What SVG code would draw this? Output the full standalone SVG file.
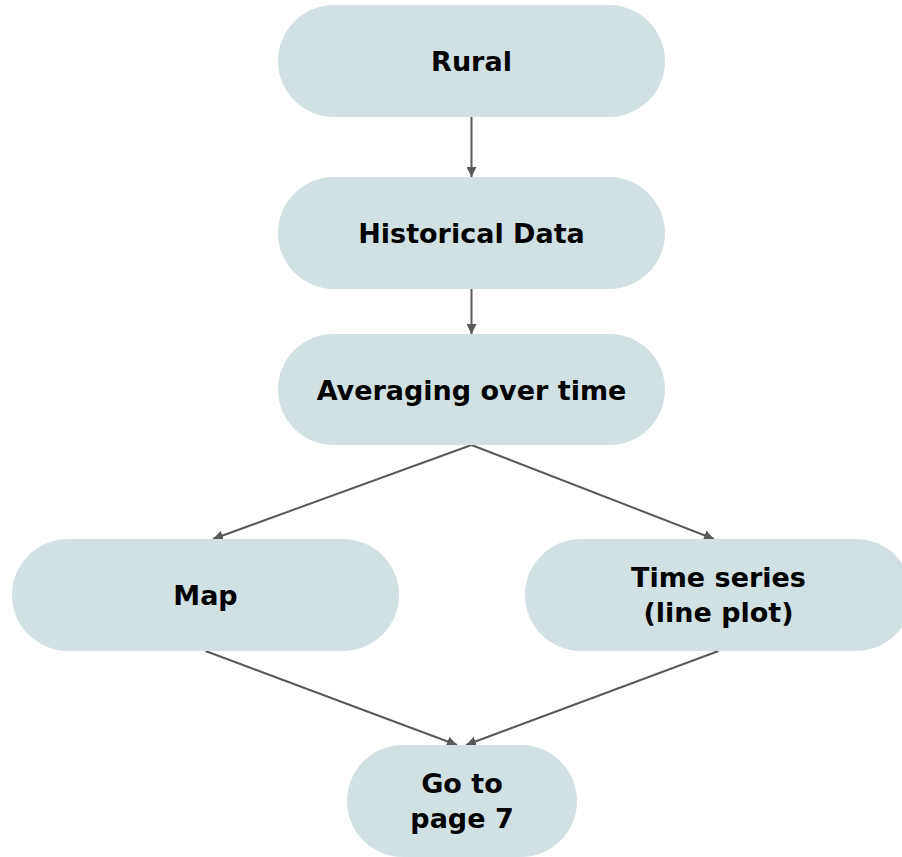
<svg xmlns="http://www.w3.org/2000/svg" width="902" height="857" viewBox="0 0 902 857">
  <defs>
    <marker id="arrow" viewBox="0 0 10 10" refX="10" refY="5" markerWidth="5" markerHeight="5" markerUnits="strokeWidth" orient="auto">
      <path d="M0,0 L10,5 L0,10 z" fill="#595959"/>
    </marker>
    <style>
      .pill { fill: #d0e0e3; stroke: none; }
      .label { font-family: "DejaVu Sans", "Open Sans", sans-serif; font-weight: 700; font-size: 27px; fill: #000000; text-anchor: middle; }
      .edge { fill: none; stroke: #595959; stroke-width: 2; marker-end: url(#arrow); }
    </style>
  </defs>
  <rect width="902" height="857" fill="#ffffff"/>

  <g id="connectors">
    <line class="edge" x1="471.5" y1="117" x2="471.5" y2="177"/>
    <line class="edge" x1="471.5" y1="289" x2="471.5" y2="334"/>
    <line class="edge" x1="471.5" y1="445" x2="213" y2="539"/>
    <line class="edge" x1="471.5" y1="445" x2="714" y2="539"/>
    <line class="edge" x1="205.5" y1="651" x2="457" y2="745"/>
    <line class="edge" x1="718.5" y1="651" x2="466" y2="745"/>
  </g>

  <g id="rural">
    <rect class="pill" x="278" y="5" width="387" height="112" rx="56" ry="56"/>
    <text class="label" x="471.5" y="71">Rural</text>
  </g>

  <g id="historical-data">
    <rect class="pill" x="278" y="177" width="387" height="112" rx="56" ry="56"/>
    <text class="label" x="471.5" y="243">Historical Data</text>
  </g>

  <g id="averaging">
    <rect class="pill" x="278" y="334" width="387" height="111" rx="55.5" ry="55.5"/>
    <text class="label" x="471.5" y="400">Averaging over time</text>
  </g>

  <g id="map">
    <rect class="pill" x="12" y="539" width="387" height="112" rx="56" ry="56"/>
    <text class="label" x="205.5" y="605">Map</text>
  </g>

  <g id="time-series">
    <rect class="pill" x="525" y="539" width="387" height="112" rx="56" ry="56"/>
    <text class="label" x="718.5" y="587">Time series</text>
    <text class="label" x="718.5" y="622">(line plot)</text>
  </g>

  <g id="go-to-page-7">
    <rect class="pill" x="347" y="745" width="230" height="112" rx="56" ry="56"/>
    <text class="label" x="462" y="793">Go to</text>
    <text class="label" x="462" y="828">page 7</text>
  </g>
</svg>
